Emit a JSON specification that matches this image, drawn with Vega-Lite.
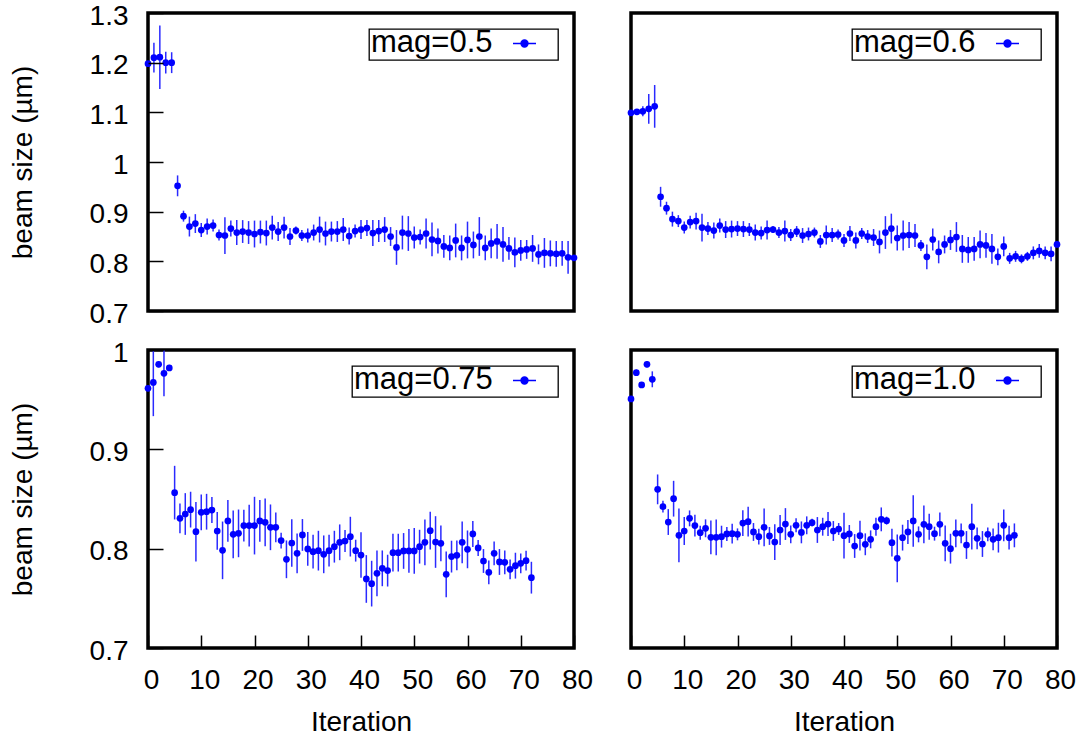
{
"$schema": "https://vega.github.io/schema/vega-lite/v6.json",
"background": "white",
"padding": {"left": 7, "top": 0, "right": 5, "bottom": 5},
"config": {"view": {"stroke": "black", "strokeWidth": 3.5}, "font": "Liberation Sans",
  "axis": {"ticks": true, "tickOpacity": 1, "tickWidth": 1.5, "tickColor": "black"},
  "legend": {"orient": "top-right", "offset": 16, "strokeColor": "black", "strokeWidth": 1.3, "fillColor": "white", "padding": 2,
    "titleOrient": "left", "titleFontSize": 31, "titleFont": "Liberation Sans", "titleFontWeight": "normal", "titleColor": "black", "titlePadding": 19, "titleBaseline": "line-top", "titleLineHeight": 6, "titleAnchor": "middle", "titleLimit": 400,
    "labelFontSize": 10, "labelColor": "black", "labelOffset": 19,
    "symbolType": "M-1,0L1,0M-0.3,0A0.3,0.3,0,1,1,0.3,0A0.3,0.3,0,1,1,-0.3,0Z", "symbolSize": 529,
    "symbolFillColor": "#0000ff", "symbolStrokeColor": "#0000ff", "symbolStrokeWidth": 1.5}},
"datasets": {
"tl": [{"it":0,"y":1.198,"e":0.004},{"it":1,"y":1.21,"e":0.03},{"it":2,"y":1.211,"e":0.064},{"it":3,"y":1.2,"e":0.022},{"it":4,"y":1.2,"e":0.021},{"it":5,"y":0.952,"e":0.021},{"it":6,"y":0.891,"e":0.011},{"it":7,"y":0.87,"e":0.02},{"it":8,"y":0.876,"e":0.019},{"it":9,"y":0.863,"e":0.014},{"it":10,"y":0.87,"e":0.016},{"it":11,"y":0.872,"e":0.012},{"it":12,"y":0.853,"e":0.011},{"it":13,"y":0.852,"e":0.037},{"it":14,"y":0.866,"e":0.016},{"it":15,"y":0.858,"e":0.025},{"it":16,"y":0.86,"e":0.023},{"it":17,"y":0.858,"e":0.023},{"it":18,"y":0.855,"e":0.027},{"it":19,"y":0.859,"e":0.023},{"it":20,"y":0.857,"e":0.025},{"it":21,"y":0.868,"e":0.024},{"it":22,"y":0.86,"e":0.019},{"it":23,"y":0.868,"e":0.022},{"it":24,"y":0.85,"e":0.017},{"it":25,"y":0.862,"e":0.008},{"it":26,"y":0.852,"e":0.011},{"it":27,"y":0.852,"e":0.014},{"it":28,"y":0.858,"e":0.016},{"it":29,"y":0.864,"e":0.026},{"it":30,"y":0.856,"e":0.024},{"it":31,"y":0.86,"e":0.02},{"it":32,"y":0.86,"e":0.021},{"it":33,"y":0.864,"e":0.023},{"it":34,"y":0.851,"e":0.017},{"it":35,"y":0.861,"e":0.013},{"it":36,"y":0.864,"e":0.019},{"it":37,"y":0.867,"e":0.016},{"it":38,"y":0.857,"e":0.026},{"it":39,"y":0.861,"e":0.022},{"it":40,"y":0.864,"e":0.025},{"it":41,"y":0.85,"e":0.019},{"it":42,"y":0.828,"e":0.035},{"it":43,"y":0.858,"e":0.034},{"it":44,"y":0.856,"e":0.035},{"it":45,"y":0.848,"e":0.022},{"it":46,"y":0.849,"e":0.015},{"it":47,"y":0.856,"e":0.03},{"it":48,"y":0.844,"e":0.034},{"it":49,"y":0.841,"e":0.025},{"it":50,"y":0.83,"e":0.023},{"it":51,"y":0.827,"e":0.025},{"it":52,"y":0.842,"e":0.034},{"it":53,"y":0.827,"e":0.025},{"it":54,"y":0.843,"e":0.037},{"it":55,"y":0.833,"e":0.027},{"it":56,"y":0.85,"e":0.039},{"it":57,"y":0.827,"e":0.025},{"it":58,"y":0.836,"e":0.03},{"it":59,"y":0.84,"e":0.035},{"it":60,"y":0.834,"e":0.035},{"it":61,"y":0.826,"e":0.023},{"it":62,"y":0.818,"e":0.03},{"it":63,"y":0.822,"e":0.021},{"it":64,"y":0.824,"e":0.019},{"it":65,"y":0.826,"e":0.027},{"it":66,"y":0.814,"e":0.02},{"it":67,"y":0.817,"e":0.03},{"it":68,"y":0.816,"e":0.026},{"it":69,"y":0.815,"e":0.026},{"it":70,"y":0.816,"e":0.025},{"it":71,"y":0.808,"e":0.033},{"it":72,"y":0.807,"e":0.006}],
"tr": [{"it":0,"y":1.099,"e":0.004},{"it":1,"y":1.101,"e":0.004},{"it":2,"y":1.102,"e":0.01},{"it":3,"y":1.107,"e":0.03},{"it":4,"y":1.112,"e":0.043},{"it":5,"y":0.93,"e":0.02},{"it":6,"y":0.907,"e":0.013},{"it":7,"y":0.885,"e":0.015},{"it":8,"y":0.881,"e":0.012},{"it":9,"y":0.868,"e":0.012},{"it":10,"y":0.879,"e":0.013},{"it":11,"y":0.881,"e":0.017},{"it":12,"y":0.868,"e":0.028},{"it":13,"y":0.866,"e":0.013},{"it":14,"y":0.862,"e":0.016},{"it":15,"y":0.872,"e":0.014},{"it":16,"y":0.864,"e":0.017},{"it":17,"y":0.865,"e":0.017},{"it":18,"y":0.866,"e":0.015},{"it":19,"y":0.865,"e":0.016},{"it":20,"y":0.864,"e":0.013},{"it":21,"y":0.858,"e":0.016},{"it":22,"y":0.857,"e":0.013},{"it":23,"y":0.863,"e":0.019},{"it":24,"y":0.864,"e":0.007},{"it":25,"y":0.858,"e":0.011},{"it":26,"y":0.861,"e":0.021},{"it":27,"y":0.853,"e":0.012},{"it":28,"y":0.86,"e":0.011},{"it":29,"y":0.852,"e":0.015},{"it":30,"y":0.855,"e":0.013},{"it":31,"y":0.858,"e":0.01},{"it":32,"y":0.84,"e":0.013},{"it":33,"y":0.853,"e":0.019},{"it":34,"y":0.853,"e":0.014},{"it":35,"y":0.854,"e":0.01},{"it":36,"y":0.842,"e":0.013},{"it":37,"y":0.856,"e":0.015},{"it":38,"y":0.842,"e":0.016},{"it":39,"y":0.856,"e":0.011},{"it":40,"y":0.85,"e":0.013},{"it":41,"y":0.848,"e":0.017},{"it":42,"y":0.839,"e":0.023},{"it":43,"y":0.858,"e":0.033},{"it":44,"y":0.866,"e":0.03},{"it":45,"y":0.847,"e":0.025},{"it":46,"y":0.852,"e":0.03},{"it":47,"y":0.853,"e":0.026},{"it":48,"y":0.852,"e":0.023},{"it":49,"y":0.832,"e":0.011},{"it":50,"y":0.809,"e":0.025},{"it":51,"y":0.844,"e":0.022},{"it":52,"y":0.819,"e":0.023},{"it":53,"y":0.834,"e":0.018},{"it":54,"y":0.843,"e":0.02},{"it":55,"y":0.849,"e":0.03},{"it":56,"y":0.825,"e":0.028},{"it":57,"y":0.823,"e":0.026},{"it":58,"y":0.825,"e":0.024},{"it":59,"y":0.834,"e":0.028},{"it":60,"y":0.832,"e":0.025},{"it":61,"y":0.825,"e":0.03},{"it":62,"y":0.809,"e":0.017},{"it":63,"y":0.83,"e":0.02},{"it":64,"y":0.806,"e":0.011},{"it":65,"y":0.81,"e":0.011},{"it":66,"y":0.805,"e":0.009},{"it":67,"y":0.81,"e":0.009},{"it":68,"y":0.817,"e":0.013},{"it":69,"y":0.821,"e":0.014},{"it":70,"y":0.817,"e":0.013},{"it":71,"y":0.815,"e":0.015},{"it":72,"y":0.834,"e":0.005}],
"bl": [{"it":0,"y":0.9614,"e":0.003},{"it":1,"y":0.9674,"e":0.034},{"it":2,"y":0.9856,"e":0.003},{"it":3,"y":0.9765,"e":0.023},{"it":4,"y":0.982,"e":0.003},{"it":5,"y":0.8564,"e":0.027},{"it":6,"y":0.8305,"e":0.015},{"it":7,"y":0.8349,"e":0.021},{"it":8,"y":0.8393,"e":0.018},{"it":9,"y":0.8171,"e":0.03},{"it":10,"y":0.8366,"e":0.018},{"it":11,"y":0.8372,"e":0.018},{"it":12,"y":0.8389,"e":0.013},{"it":13,"y":0.8178,"e":0.019},{"it":14,"y":0.7983,"e":0.029},{"it":15,"y":0.8279,"e":0.021},{"it":16,"y":0.8144,"e":0.024},{"it":17,"y":0.8154,"e":0.024},{"it":18,"y":0.8232,"e":0.016},{"it":19,"y":0.8232,"e":0.021},{"it":20,"y":0.8232,"e":0.029},{"it":21,"y":0.8279,"e":0.021},{"it":22,"y":0.8265,"e":0.024},{"it":23,"y":0.8215,"e":0.023},{"it":24,"y":0.8215,"e":0.015},{"it":25,"y":0.8081,"e":0.008},{"it":26,"y":0.7893,"e":0.019},{"it":27,"y":0.8057,"e":0.024},{"it":28,"y":0.7953,"e":0.02},{"it":29,"y":0.8138,"e":0.016},{"it":30,"y":0.7997,"e":0.017},{"it":31,"y":0.797,"e":0.017},{"it":32,"y":0.798,"e":0.02},{"it":33,"y":0.7943,"e":0.019},{"it":34,"y":0.798,"e":0.016},{"it":35,"y":0.802,"e":0.016},{"it":36,"y":0.8064,"e":0.018},{"it":37,"y":0.8077,"e":0.011},{"it":38,"y":0.8121,"e":0.02},{"it":39,"y":0.798,"e":0.011},{"it":40,"y":0.7936,"e":0.023},{"it":41,"y":0.7695,"e":0.024},{"it":42,"y":0.7648,"e":0.023},{"it":43,"y":0.7752,"e":0.023},{"it":44,"y":0.7802,"e":0.018},{"it":45,"y":0.7779,"e":0.016},{"it":46,"y":0.796,"e":0.019},{"it":47,"y":0.796,"e":0.019},{"it":48,"y":0.7977,"e":0.018},{"it":49,"y":0.7977,"e":0.022},{"it":50,"y":0.7977,"e":0.023},{"it":51,"y":0.802,"e":0.017},{"it":52,"y":0.8064,"e":0.023},{"it":53,"y":0.8181,"e":0.019},{"it":54,"y":0.8067,"e":0.026},{"it":55,"y":0.8054,"e":0.018},{"it":56,"y":0.7742,"e":0.023},{"it":57,"y":0.792,"e":0.016},{"it":58,"y":0.7933,"e":0.015},{"it":59,"y":0.8064,"e":0.021},{"it":60,"y":0.7993,"e":0.019},{"it":61,"y":0.8148,"e":0.013},{"it":62,"y":0.8007,"e":0.008},{"it":63,"y":0.7876,"e":0.012},{"it":64,"y":0.7762,"e":0.012},{"it":65,"y":0.7953,"e":0.012},{"it":66,"y":0.7866,"e":0.013},{"it":67,"y":0.7862,"e":0.012},{"it":68,"y":0.7792,"e":0.01},{"it":69,"y":0.7829,"e":0.013},{"it":70,"y":0.7852,"e":0.01},{"it":71,"y":0.7879,"e":0.01},{"it":72,"y":0.7708,"e":0.016}],
"br": [{"it":0,"y":0.9507,"e":0.003},{"it":1,"y":0.9772,"e":0.003},{"it":2,"y":0.9648,"e":0.003},{"it":3,"y":0.9856,"e":0.003},{"it":4,"y":0.9705,"e":0.008},{"it":5,"y":0.8597,"e":0.015},{"it":6,"y":0.8423,"e":0.006},{"it":7,"y":0.8268,"e":0.013},{"it":8,"y":0.8503,"e":0.018},{"it":9,"y":0.8134,"e":0.027},{"it":10,"y":0.8178,"e":0.014},{"it":11,"y":0.8305,"e":0.008},{"it":12,"y":0.8232,"e":0.011},{"it":13,"y":0.8161,"e":0.007},{"it":14,"y":0.8205,"e":0.009},{"it":15,"y":0.8114,"e":0.017},{"it":16,"y":0.8114,"e":0.018},{"it":17,"y":0.8121,"e":0.011},{"it":18,"y":0.8148,"e":0.007},{"it":19,"y":0.8151,"e":0.01},{"it":20,"y":0.8144,"e":0.006},{"it":21,"y":0.8258,"e":0.013},{"it":22,"y":0.8272,"e":0.015},{"it":23,"y":0.8168,"e":0.009},{"it":24,"y":0.8121,"e":0.008},{"it":25,"y":0.8215,"e":0.019},{"it":26,"y":0.8128,"e":0.009},{"it":27,"y":0.8067,"e":0.018},{"it":28,"y":0.8188,"e":0.015},{"it":29,"y":0.8248,"e":0.016},{"it":30,"y":0.8144,"e":0.009},{"it":31,"y":0.8235,"e":0.007},{"it":32,"y":0.8164,"e":0.011},{"it":33,"y":0.8235,"e":0.009},{"it":34,"y":0.8262,"e":0.004},{"it":35,"y":0.8188,"e":0.013},{"it":36,"y":0.8221,"e":0.009},{"it":37,"y":0.8248,"e":0.012},{"it":38,"y":0.8178,"e":0.01},{"it":39,"y":0.8198,"e":0.006},{"it":40,"y":0.8131,"e":0.023},{"it":41,"y":0.8148,"e":0.009},{"it":42,"y":0.8027,"e":0.012},{"it":43,"y":0.8131,"e":0.015},{"it":44,"y":0.8044,"e":0.011},{"it":45,"y":0.8094,"e":0.009},{"it":46,"y":0.8221,"e":0.009},{"it":47,"y":0.8295,"e":0.012},{"it":48,"y":0.8282,"e":0.004},{"it":49,"y":0.806,"e":0.014},{"it":50,"y":0.7903,"e":0.024},{"it":51,"y":0.8111,"e":0.013},{"it":52,"y":0.8168,"e":0.012},{"it":53,"y":0.8279,"e":0.026},{"it":54,"y":0.8144,"e":0.008},{"it":55,"y":0.8245,"e":0.019},{"it":56,"y":0.8221,"e":0.013},{"it":57,"y":0.8151,"e":0.007},{"it":58,"y":0.8245,"e":0.012},{"it":59,"y":0.8054,"e":0.018},{"it":60,"y":0.8,"e":0.015},{"it":61,"y":0.8154,"e":0.014},{"it":62,"y":0.8154,"e":0.01},{"it":63,"y":0.8037,"e":0.014},{"it":64,"y":0.8221,"e":0.023},{"it":65,"y":0.8104,"e":0.011},{"it":66,"y":0.8047,"e":0.013},{"it":67,"y":0.8144,"e":0.007},{"it":68,"y":0.8094,"e":0.011},{"it":69,"y":0.8111,"e":0.015},{"it":70,"y":0.8235,"e":0.016},{"it":71,"y":0.8111,"e":0.012},{"it":72,"y":0.8134,"e":0.012}]
},
"columns": 2,
"spacing": {"row": 39, "column": 57},
"bounds": "flush",
"resolve": {"scale": {"x": "independent", "y": "independent", "color": "independent"}, "axis": {"x": "independent", "y": "independent"}, "legend": {"color": "independent"}},
"concat": [
{
 "width": 426, "height": 298,
 "data": {"name": "tl"},
 "encoding": {
  "x": {"field": "it", "type": "quantitative", "scale": {"domain": [0, 72], "nice": false, "zero": false}, "axis": null},
  "y": {"field": "y", "type": "quantitative", "scale": {"domain": [0.7, 1.3], "nice": false, "zero": false},
        "axis": {"values": [0.7, 0.8, 0.9, 1, 1.1, 1.2, 1.3], "format": "~g", "title": "beam size (µm)", "grid": false, "domain": false, "labelFlush": false, "zindex": 1, "offset": -15,
                 "ticks": true, "tickSize": 15, "tickWidth": 1.5, "tickColor": "black", "labelFontSize": 28, "labelFont": "Liberation Sans", "labelColor": "black", "labelPadding": 20, "labelOffset": 3,
                 "titleFontSize": 28, "titleFont": "Liberation Sans", "titleFontWeight": "normal", "titleColor": "black", "titlePadding": 52}}
 },
 "layer": [
  {"mark": {"type": "errorbar", "color": "#2a2aff", "thickness": 1.5}, "encoding": {"yError": {"field": "e"}}},
  {"mark": {"type": "point", "filled": true, "size": 45, "opacity": 1}, "encoding": {"color": {"datum": "mag=0.5", "type": "nominal", "scale": {"range": ["#0000ff"]}, "legend": {"title": "mag=0.5", "labelExpr": "' '"}}}}
 ]
},
{
 "width": 426, "height": 298,
 "data": {"name": "tr"},
 "encoding": {
  "x": {"field": "it", "type": "quantitative", "scale": {"domain": [0, 72], "nice": false, "zero": false}, "axis": null},
  "y": {"field": "y", "type": "quantitative", "scale": {"domain": [0.7, 1.3], "nice": false, "zero": false}, "axis": null}
 },
 "layer": [
  {"mark": {"type": "errorbar", "color": "#2a2aff", "thickness": 1.5}, "encoding": {"yError": {"field": "e"}}},
  {"mark": {"type": "point", "filled": true, "size": 45, "opacity": 1}, "encoding": {"color": {"datum": "mag=0.6", "type": "nominal", "scale": {"range": ["#0000ff"]}, "legend": {"title": "mag=0.6", "labelExpr": "' '"}}}}
 ]
},
{
 "width": 426, "height": 298,
 "data": {"name": "bl"},
 "encoding": {
  "x": {"field": "it", "type": "quantitative", "scale": {"domain": [0, 80], "nice": false, "zero": false},
        "axis": {"values": [0, 10, 20, 30, 40, 50, 60, 70, 80], "title": "Iteration", "grid": false, "domain": false, "labelFlush": false, "labelOverlap": false, "zindex": 1, "offset": -13,
                 "ticks": true, "tickSize": 13, "tickWidth": 1.5, "tickColor": "black", "labelFontSize": 28, "labelFont": "Liberation Sans", "labelColor": "black", "labelPadding": 18, "labelOffset": 3,
                 "titleFontSize": 28, "titleFont": "Liberation Sans", "titleFontWeight": "normal", "titleColor": "black", "titlePadding": 14}},
  "y": {"field": "y", "type": "quantitative", "scale": {"domain": [0.7, 1.0], "nice": false, "zero": false},
        "axis": {"values": [0.7, 0.8, 0.9, 1], "format": "~g", "title": "beam size (µm)", "grid": false, "domain": false, "labelFlush": false, "zindex": 1, "offset": -15,
                 "ticks": true, "tickSize": 15, "tickWidth": 1.5, "tickColor": "black", "labelFontSize": 28, "labelFont": "Liberation Sans", "labelColor": "black", "labelPadding": 20, "labelOffset": 3,
                 "titleFontSize": 28, "titleFont": "Liberation Sans", "titleFontWeight": "normal", "titleColor": "black", "titlePadding": 52}}
 },
 "layer": [
  {"mark": {"type": "errorbar", "color": "#2a2aff", "thickness": 1.5, "clip": true}, "encoding": {"yError": {"field": "e"}}},
  {"mark": {"type": "point", "filled": true, "size": 45, "opacity": 1}, "encoding": {"color": {"datum": "mag=0.75", "type": "nominal", "scale": {"range": ["#0000ff"]}, "legend": {"title": "mag=0.75", "labelExpr": "' '"}}}}
 ]
},
{
 "width": 426, "height": 298,
 "data": {"name": "br"},
 "encoding": {
  "x": {"field": "it", "type": "quantitative", "scale": {"domain": [0, 80], "nice": false, "zero": false},
        "axis": {"values": [0, 10, 20, 30, 40, 50, 60, 70, 80], "title": "Iteration", "grid": false, "domain": false, "labelFlush": false, "labelOverlap": false, "zindex": 1, "offset": -13,
                 "ticks": true, "tickSize": 13, "tickWidth": 1.5, "tickColor": "black", "labelFontSize": 28, "labelFont": "Liberation Sans", "labelColor": "black", "labelPadding": 18, "labelOffset": 3,
                 "titleFontSize": 28, "titleFont": "Liberation Sans", "titleFontWeight": "normal", "titleColor": "black", "titlePadding": 14}},
  "y": {"field": "y", "type": "quantitative", "scale": {"domain": [0.7, 1.0], "nice": false, "zero": false}, "axis": null}
 },
 "layer": [
  {"mark": {"type": "errorbar", "color": "#2a2aff", "thickness": 1.5, "clip": true}, "encoding": {"yError": {"field": "e"}}},
  {"mark": {"type": "point", "filled": true, "size": 45, "opacity": 1}, "encoding": {"color": {"datum": "mag=1.0", "type": "nominal", "scale": {"range": ["#0000ff"]}, "legend": {"title": "mag=1.0", "labelExpr": "' '"}}}}
 ]
}
]
}
